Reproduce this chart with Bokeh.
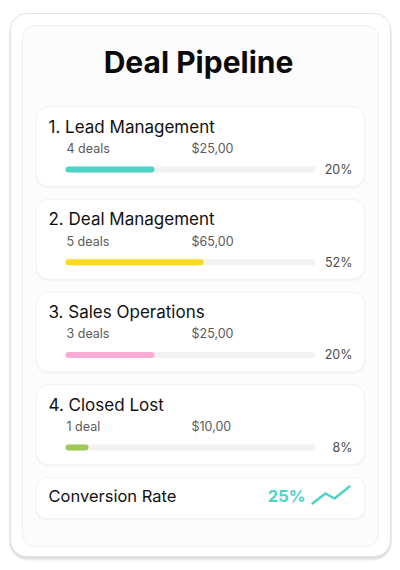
from bokeh.plotting import figure
from bokeh.models import Range1d
from bokeh.core.properties import value
from bokeh.embed import file_html
from bokeh.resources import INLINE

# ---- data ----
title = "Deal Pipeline"
stages = ["Lead Management", "Deal Management", "Sales Operations", "Closed Lost"]
deal_counts = [4, 5, 3, 1]
amounts = ["$25,00", "$65,00", "$25,00", "$10,00"]
percents = [20, 52, 20, 8]
bar_fill = [0.356, 0.552, 0.356, 0.092]   # filled share of each progress track
bar_colors = ["#4dd4c6", "#fbd91c", "#f9acd6", "#9fc75a"]
conversion_label = "Conversion Rate"
conversion_rate = 25
trend = [0, 10, 5, 17]

FONT = value("Inter")

W, H = 392, 562
p = figure(width=W, height=H, output_backend="svg", toolbar_location=None,
           x_range=Range1d(0, W), y_range=Range1d(H, 0),
           min_border=0, background_fill_color="white", border_fill_color="white")
p.axis.visible = False
p.grid.visible = False
p.outline_line_color = None

# outer card with soft shadow
for k, a in [(4, 0.025), (3, 0.03), (2, 0.04), (1, 0.05)]:
    p.quad(left=10 - k / 2, right=390 + k / 2, top=13 + k / 2, bottom=557 + k,
           fill_color="black", fill_alpha=a, line_color=None, border_radius=16 + k)
p.quad(left=10, right=390, top=13, bottom=556, fill_color="white",
       line_color="#e2e2e2", line_width=1, border_radius=16)
# inner panel
p.quad(left=22, right=378, top=25, bottom=546, fill_color="#fcfcfc",
       line_color="#f0f0f0", line_width=1, border_radius=12)

# title
p.text(x=[198], y=[61], text=[title], text_font=FONT, text_font_size="30px",
       text_font_style="bold", text_align="center", text_baseline="middle",
       text_color="#0a0a0a")

step = 92.7
track_l, track_r = 65, 315
for i, name in enumerate(stages):
    o = i * step
    # card shadow + card
    p.quad(left=35, right=365, top=106 + o + 1, bottom=186 + o + 2, fill_color="black",
           fill_alpha=0.025, line_color=None, border_radius=12)
    p.quad(left=36, right=364, top=106 + o, bottom=186 + o, fill_color="white",
           line_color="#f1f1f1", line_width=1, border_radius=12)
    p.text(x=[48], y=[126 + o], text=[f"{i + 1}. {name}"], text_font=FONT,
           text_font_size="17px", text_baseline="alphabetic", text_color="#111111")
    n = deal_counts[i]
    p.text(x=[66], y=[148 + o], text=[f"{n} deal" + ("s" if n != 1 else "")],
           text_font=FONT, text_font_size="12.5px", text_baseline="alphabetic",
           text_color="#5a5a5a")
    p.text(x=[191], y=[148 + o], text=[amounts[i]], text_font=FONT,
           text_font_size="12.5px", text_baseline="alphabetic", text_color="#5a5a5a")
    # track + fill
    p.hbar(y=[169 + o], left=[track_l], right=[track_r], height=6,
           fill_color="#f2f2f2", line_color=None, border_radius=3)
    p.hbar(y=[169 + o], left=[track_l], right=[track_l + bar_fill[i] * (track_r - track_l)],
           height=6, fill_color=bar_colors[i], line_color=None, border_radius=3)
    p.text(x=[352], y=[169 + o], text=[f"{percents[i]}%"], text_font=FONT,
           text_font_size="12.5px", text_align="right", text_baseline="alphabetic",
           text_color="#4a4a4a")

# conversion card
p.quad(left=35, right=365, top=478, bottom=520, fill_color="black",
       fill_alpha=0.025, line_color=None, border_radius=10)
p.quad(left=36, right=364, top=477, bottom=518, fill_color="white",
       line_color="#f1f1f1", line_width=1, border_radius=10)
p.text(x=[48], y=[495.5], text=[conversion_label], text_font=FONT, text_font_size="16.5px",
       text_baseline="alphabetic", text_color="#111111")
p.text(x=[305], y=[495.5], text=[f"{conversion_rate}%"], text_font=FONT,
       text_font_size="16.5px", text_font_style="bold", text_align="right",
       text_baseline="alphabetic", text_color="#4dd4c6")
tx = [312 + j * (349 - 312) / (len(trend) - 1) for j in range(len(trend))]
tx[1] = 325
tx[2] = 334
ty = [503 - v * (17 / max(trend)) for v in trend]
p.line(x=tx, y=ty, line_color="#4dd4c6", line_width=2.5, line_join="round",
       line_cap="round")

open("out.html", "w").write(file_html(p, INLINE))
